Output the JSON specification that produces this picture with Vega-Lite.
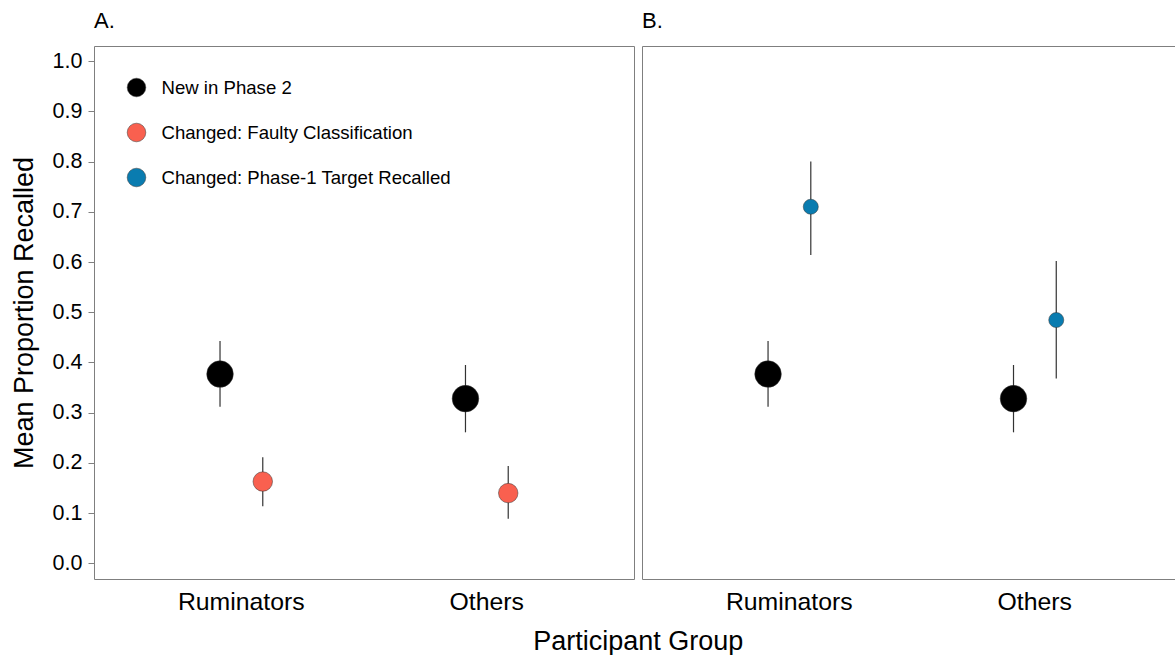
{
  "$schema": "https://vega.github.io/schema/vega-lite/v6.json",
  "padding": {"left": 10, "top": 10, "right": 0, "bottom": 0},
  "bounds": "flush",
  "spacing": 8,
  "config": {
    "font": "Liberation Sans",
    "view": {"stroke": null},
    "axis": {"grid": false, "labelColor": "#000", "titleColor": "#000", "labelFont": "Liberation Sans", "titleFont": "Liberation Sans", "titleFontWeight": "normal", "domainColor": "#7f7f7f", "domainWidth": 1},
    "title": {"fontSize": 22, "fontWeight": "normal", "anchor": "start", "frame": "group", "baseline": "alphabetic", "offset": 13, "color": "#000", "font": "Liberation Sans"},
    "legend": {"symbolSize": 346}
  },
  "data": {
    "values": [
      {"panel": "A", "group": "Ruminators", "condition": "New in Phase 2", "mean": 0.377, "lo": 0.312, "hi": 0.443},
      {"panel": "A", "group": "Ruminators", "condition": "Changed: Faulty Classification", "mean": 0.163, "lo": 0.114, "hi": 0.2115},
      {"panel": "A", "group": "Others", "condition": "New in Phase 2", "mean": 0.328, "lo": 0.261, "hi": 0.395},
      {"panel": "A", "group": "Others", "condition": "Changed: Faulty Classification", "mean": 0.140, "lo": 0.089, "hi": 0.194},
      {"panel": "B", "group": "Ruminators", "condition": "New in Phase 2", "mean": 0.377, "lo": 0.312, "hi": 0.443},
      {"panel": "B", "group": "Ruminators", "condition": "Changed: Phase-1 Target Recalled", "mean": 0.710, "lo": 0.614, "hi": 0.800},
      {"panel": "B", "group": "Others", "condition": "New in Phase 2", "mean": 0.328, "lo": 0.261, "hi": 0.395},
      {"panel": "B", "group": "Others", "condition": "Changed: Phase-1 Target Recalled", "mean": 0.4845, "lo": 0.368, "hi": 0.602}
    ]
  },
  "hconcat": [
    {
      "width": 540,
      "height": 533,
      "title": "A.",
      "transform": [{"filter": "datum.panel === 'A'"}],
      "layer": [
        {
          "mark": {"type": "rule", "color": "#333333", "strokeWidth": 1.2},
          "encoding": {
            "x": {"field": "group", "type": "nominal", "scale": {"domain": ["Ruminators", "Others"], "paddingInner": 0, "paddingOuter": 0.1},
                  "axis": {"orient": "bottom", "title": "Participant Group", "titleFontSize": 27, "titleX": 543.8, "titleY": 70.8, "titleBaseline": "alphabetic", "titleAlign": "center", "labelFontSize": 24.8, "labelAngle": 0, "ticks": false, "tickSize": 0, "labelPadding": 10, "domain": true}},
            "xOffset": {"field": "condition", "type": "nominal", "scale": {"domain": ["New in Phase 2", "Changed: Faulty Classification"], "range": [80.1, 165.6], "paddingInner": 0, "paddingOuter": 0}},
            "y": {"field": "lo", "type": "quantitative", "scale": {"domain": [-0.031, 1.03], "nice": false, "zero": false},
                  "axis": {"orient": "left", "title": "Mean Proportion Recalled", "titleFontSize": 27, "titlePadding": 14, "values": [0, 0.1, 0.2, 0.3, 0.4, 0.5, 0.6, 0.7, 0.8, 0.9, 1.0], "format": ".1f", "labelFontSize": 21.5, "tickSize": 6, "tickColor": "#7f7f7f", "labelPadding": 6, "domain": true}},
            "y2": {"field": "hi"}
          }
        },
        {
          "transform": [{"filter": "datum.condition === 'New in Phase 2'"}],
          "mark": {"type": "circle", "opacity": 1, "stroke": "#333333", "strokeWidth": 0.5, "size": 707},
          "encoding": {
            "x": {"field": "group", "type": "nominal", "scale": {"domain": ["Ruminators", "Others"], "paddingInner": 0, "paddingOuter": 0.1},
                  "axis": {"orient": "top", "title": null, "labels": false, "ticks": false, "domain": true}},
            "xOffset": {"field": "condition", "type": "nominal", "scale": {"domain": ["New in Phase 2", "Changed: Faulty Classification"], "range": [80.1, 165.6], "paddingInner": 0, "paddingOuter": 0}},
            "y": {"field": "mean", "type": "quantitative", "scale": {"domain": [-0.031, 1.03], "nice": false, "zero": false},
                  "axis": {"orient": "right", "title": null, "labels": false, "ticks": false, "domain": true}},
            "color": {"field": "condition", "type": "nominal",
                      "scale": {"domain": ["New in Phase 2", "Changed: Faulty Classification", "Changed: Phase-1 Target Recalled"], "range": ["#000000", "#F9604F", "#0A7CB0"]},
                      "legend": {"title": null, "orient": "none", "legendX": 32.5, "legendY": 31.5, "padding": 0, "symbolType": "circle", "symbolSize": 346, "symbolStrokeColor": "#333333", "symbolStrokeWidth": 0.5, "symbolOpacity": 1, "labelFontSize": 18.6, "labelColor": "#000", "labelOffset": 15, "rowPadding": 23, "labelLimit": 400}}
          }
        },
        {
          "transform": [{"filter": "datum.condition !== 'New in Phase 2'"}],
          "mark": {"type": "circle", "opacity": 1, "stroke": "#333333", "strokeWidth": 0.5, "size": 380},
          "encoding": {
            "x": {"field": "group", "type": "nominal", "scale": {"domain": ["Ruminators", "Others"], "paddingInner": 0, "paddingOuter": 0.1}, "axis": null},
            "xOffset": {"field": "condition", "type": "nominal", "scale": {"domain": ["New in Phase 2", "Changed: Faulty Classification"], "range": [80.1, 165.6], "paddingInner": 0, "paddingOuter": 0}},
            "y": {"field": "mean", "type": "quantitative", "scale": {"domain": [-0.031, 1.03], "nice": false, "zero": false}, "axis": null},
            "color": {"field": "condition", "type": "nominal",
                      "scale": {"domain": ["New in Phase 2", "Changed: Faulty Classification", "Changed: Phase-1 Target Recalled"], "range": ["#000000", "#F9604F", "#0A7CB0"]}}
          }
        }
      ],
      "resolve": {"axis": {"x": "independent", "y": "independent"}}
    },
    {
      "width": 533,
      "height": 533,
      "title": "B.",
      "transform": [{"filter": "datum.panel === 'B'"}],
      "layer": [
        {
          "mark": {"type": "rule", "color": "#333333", "strokeWidth": 1.2},
          "encoding": {
            "x": {"field": "group", "type": "nominal", "scale": {"domain": ["Ruminators", "Others"], "paddingInner": 0, "paddingOuter": 0.0857, "align": 0.584},
                  "axis": {"title": null, "orient": "bottom", "labelFontSize": 24.8, "labelAngle": 0, "ticks": false, "tickSize": 0, "labelPadding": 10, "domain": true}},
            "xOffset": {"field": "condition", "type": "nominal", "scale": {"domain": ["New in Phase 2", "Changed: Phase-1 Target Recalled"], "range": [80.1, 165.6], "paddingInner": 0, "paddingOuter": 0}},
            "y": {"field": "lo", "type": "quantitative", "scale": {"domain": [-0.031, 1.03], "nice": false, "zero": false},
                  "axis": {"orient": "left", "title": null, "labels": false, "ticks": false, "domain": true}},
            "y2": {"field": "hi"}
          }
        },
        {
          "transform": [{"filter": "datum.condition === 'New in Phase 2'"}],
          "mark": {"type": "circle", "opacity": 1, "stroke": "#333333", "strokeWidth": 0.5, "size": 707},
          "encoding": {
            "x": {"field": "group", "type": "nominal", "scale": {"domain": ["Ruminators", "Others"], "paddingInner": 0, "paddingOuter": 0.0857, "align": 0.584},
                  "axis": {"title": null, "orient": "top", "labels": false, "ticks": false, "domain": true}},
            "xOffset": {"field": "condition", "type": "nominal", "scale": {"domain": ["New in Phase 2", "Changed: Phase-1 Target Recalled"], "range": [80.1, 165.6], "paddingInner": 0, "paddingOuter": 0}},
            "y": {"field": "mean", "type": "quantitative", "scale": {"domain": [-0.031, 1.03], "nice": false, "zero": false}, "axis": null},
            "color": {"field": "condition", "type": "nominal",
                      "scale": {"domain": ["New in Phase 2", "Changed: Faulty Classification", "Changed: Phase-1 Target Recalled"], "range": ["#000000", "#F9604F", "#0A7CB0"]},
                      "legend": null}
          }
        },
        {
          "transform": [{"filter": "datum.condition !== 'New in Phase 2'"}],
          "mark": {"type": "circle", "opacity": 1, "stroke": "#333333", "strokeWidth": 0.5, "size": 227},
          "encoding": {
            "x": {"field": "group", "type": "nominal", "scale": {"domain": ["Ruminators", "Others"], "paddingInner": 0, "paddingOuter": 0.0857, "align": 0.584}, "axis": null},
            "xOffset": {"field": "condition", "type": "nominal", "scale": {"domain": ["New in Phase 2", "Changed: Phase-1 Target Recalled"], "range": [80.1, 165.6], "paddingInner": 0, "paddingOuter": 0}},
            "y": {"field": "mean", "type": "quantitative", "scale": {"domain": [-0.031, 1.03], "nice": false, "zero": false}, "axis": null},
            "color": {"field": "condition", "type": "nominal",
                      "scale": {"domain": ["New in Phase 2", "Changed: Faulty Classification", "Changed: Phase-1 Target Recalled"], "range": ["#000000", "#F9604F", "#0A7CB0"]},
                      "legend": null}
          }
        }
      ],
      "resolve": {"axis": {"x": "independent", "y": "independent"}}
    }
  ],
  "resolve": {"scale": {"color": "independent", "xOffset": "independent"}, "legend": {"color": "independent"}}
}
